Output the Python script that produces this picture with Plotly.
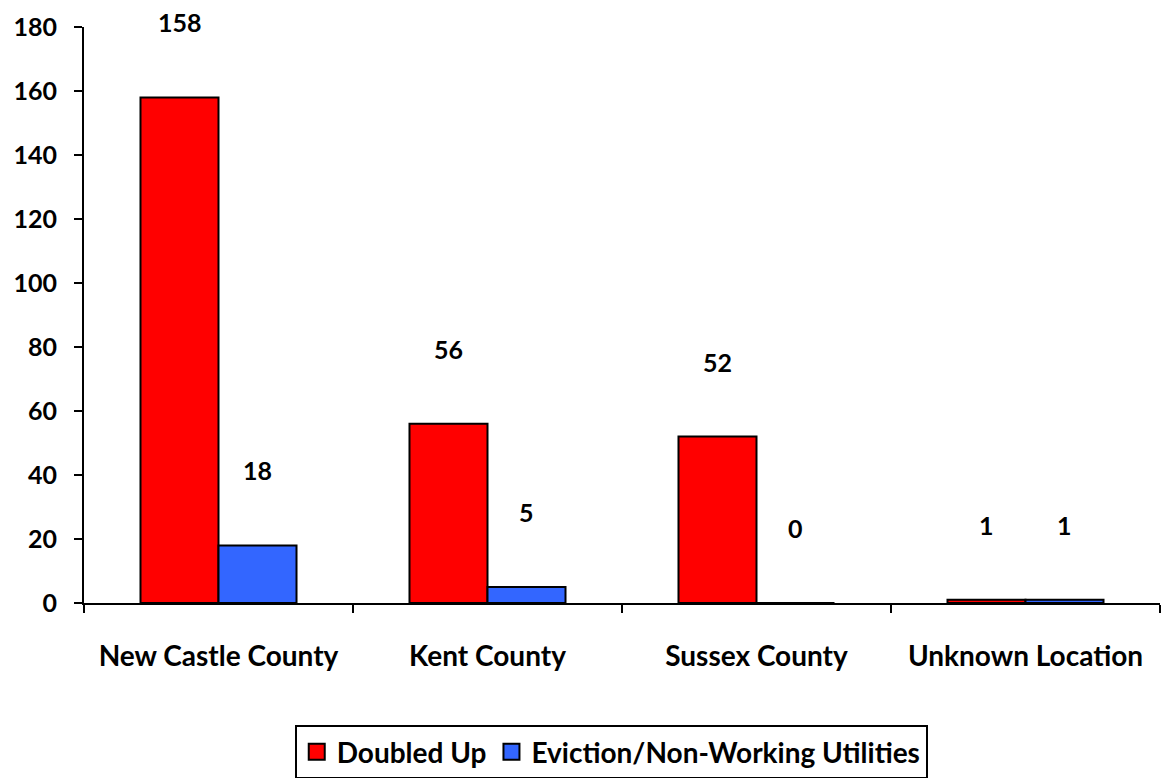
import plotly.graph_objects as go

categories = ["New Castle County", "Kent County", "Sussex County", "Unknown Location"]
doubled_up = [158, 56, 52, 1]
eviction = [18, 5, 0, 1]

series_names = ["Doubled Up", "Eviction/Non-Working Utilities"]
series_colors = ["#ff0000", "#3366ff"]

FONT = "Lato"

fig = go.Figure()
for name, vals, col in zip(series_names, [doubled_up, eviction], series_colors):
    fig.add_bar(
        x=categories, y=vals, name=name, showlegend=False,
        marker=dict(color=col, line=dict(color="black", width=2)),
    )
    # square legend swatches, bigger than plotly's default bar swatch
    fig.add_scatter(
        x=[None], y=[None], mode="markers", name=name,
        marker=dict(symbol="square", size=16, color=col, line=dict(color="black", width=2)),
    )

# value labels floating above each bar
for i, cat in enumerate(categories):
    for k, vals in enumerate([doubled_up, eviction]):
        fig.add_annotation(
            x=cat, y=vals[i], text=str(vals[i]), showarrow=False,
            xshift=(-39 if k == 0 else 39), yshift=75, yanchor="middle",
            font=dict(family=FONT, size=25, color="black", weight="bold"),
        )

fig.update_layout(
    width=1163, height=778,
    margin=dict(l=84, r=3, t=27, b=175),
    plot_bgcolor="white", paper_bgcolor="white",
    barmode="group", bargap=0.42, bargroupgap=0,
    font=dict(family=FONT, size=25, color="black", weight="bold"),
    legend=dict(
        orientation="h", x=0.49, xanchor="center",
        yref="container", y=0.068, yanchor="top",
        bordercolor="black", borderwidth=2, itemwidth=30,
        font=dict(size=28, family=FONT, weight="bold"),
    ),
    showlegend=True,
)
fig.update_xaxes(
    showline=True, linecolor="black", linewidth=2, automargin=False,
    ticks="outside", tickson="boundaries", ticklen=8, tickwidth=2, tickcolor="black",
    tickfont=dict(size=28), ticklabelstandoff=27, showgrid=False,
)
fig.update_yaxes(
    range=[0, 180], dtick=20, showline=True, linecolor="black", linewidth=2,
    automargin=False,
    ticks="outside", ticklen=8, tickwidth=2, tickcolor="black",
    tickfont=dict(size=25), ticklabelstandoff=12, showgrid=False, zeroline=False,
)

# drop the page's default body margin so the figure sits at the top-left corner
fig.write_html(
    "out.html",
    config={"displayModeBar": False},
    post_script="document.body.style.margin='0';",
)
